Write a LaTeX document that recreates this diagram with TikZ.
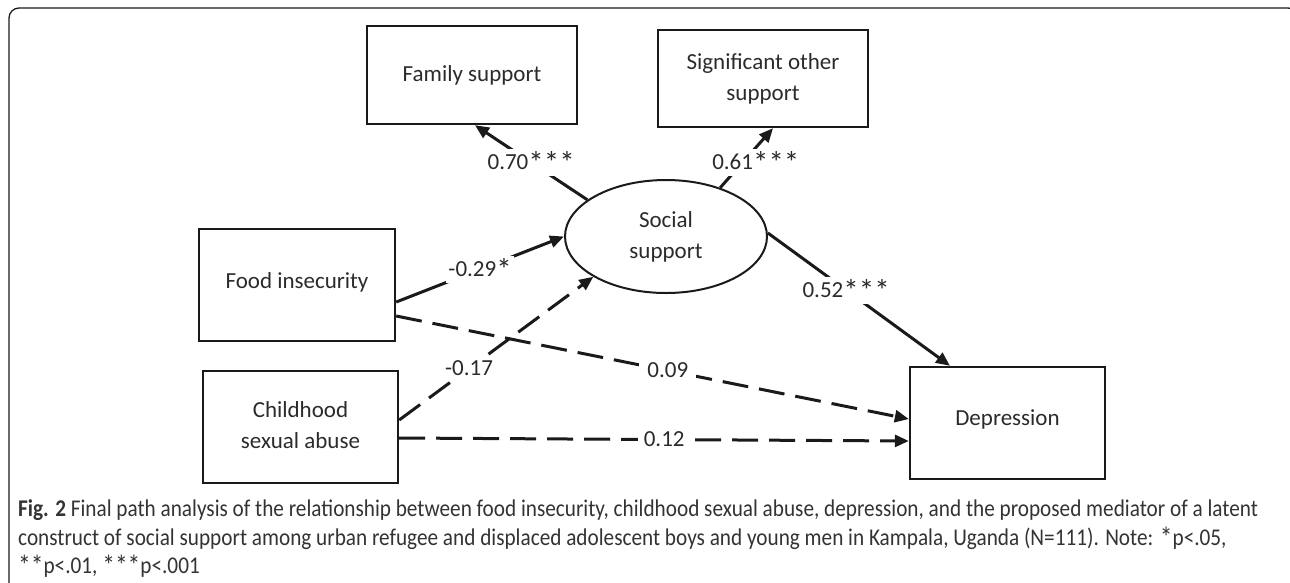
\documentclass[tikz,border=0pt]{standalone}
\usepackage{fontspec}
\usepackage{graphicx}
\setmainfont{Carlito}
\newfontfamily\capfont[FakeStretch=0.885]{Carlito}
\usetikzlibrary{arrows.meta,shapes.geometric,calc}
\definecolor{ink}{HTML}{1A1A1A}
\definecolor{txt}{HTML}{2B2B2B}
\definecolor{captxt}{HTML}{333333}
\newcommand\bast{\raisebox{-4pt}{\scalebox{1.35}{*}}}
\newcommand\cast{\raisebox{-2.5pt}{\scalebox{1.2}{*}}}
\begin{document}
\begin{tikzpicture}[x=1pt,y=-1pt,
  box/.style={draw=ink, line width=2.4pt, rectangle, inner sep=0pt,
    font=\fontsize{23}{31}\selectfont, text=txt, align=center},
  oval/.style={draw=ink, line width=2pt, ellipse, inner sep=0pt,
    font=\fontsize{23}{31}\selectfont, text=txt, align=center},
  lab/.style={fill=white, inner sep=2.5pt, font=\fontsize{23}{27}\selectfont, text=txt},
  pth/.style={draw=ink, line width=3pt, -{Triangle[length=14pt,width=12pt]}},
  dsh/.style={pth, dash pattern=on 26pt off 11pt},
  captext/.style={anchor=mid west, inner sep=0pt, text=captxt,
    font=\capfont\fontsize{24}{28}\selectfont}
]
\useasboundingbox (0,0) rectangle (1290,582);
\begin{scope}
  \clip (0,0) rectangle (1290,582);
  \draw[line width=1.3pt, rounded corners=10pt, color=ink] (9,8) rectangle (1298,594);
\end{scope}

% nodes
\node[box, minimum width=210pt, minimum height=98pt] (fam) at (472,75) {Family support};
\node[box, minimum width=210pt, minimum height=97pt] (sig) at (763,78.5) {Significant other\\support};
\node[oval, minimum width=202pt, minimum height=113pt] (soc) at (666,236.5) {Social\\support};
\node[box, minimum width=196pt, minimum height=112pt] (food) at (297,285) {\raisebox{9pt}{Food insecurity}};
\node[box, minimum width=195pt, minimum height=112pt] (child) at (300.5,427)
  {\raisebox{14.5pt}{\begin{tabular}{@{}c@{}}Childhood\\sexual abuse\end{tabular}}};
\node[box, minimum width=195pt, minimum height=112pt] (dep) at (1007.5,423) {\raisebox{10pt}{Depression}};

% connectors
\draw[pth] (soc.155) -- node[lab, pos=0.5] {0.70\bast\bast\bast} ([xshift=3pt]fam.south);
\draw[pth] (soc.42) -- node[lab, pos=0.43, xshift=13pt] {0.61\bast\bast\bast} ([xshift=10pt]sig.south);
\draw[pth] ([yshift=-17pt]food.east) -- node[lab, pos=0.5] {-0.29\bast} (soc.180);
\draw[dsh] ([yshift=7pt]child.east) -- node[lab, pos=0.36] {-0.17} (soc.209);
\draw[dsh] ([yshift=-31pt]food.east) -- node[lab, pos=0.53, inner xsep=8pt] {0.09} ([yshift=4pt]dep.west);
\draw[dsh] ([yshift=-11pt]child.east) -- node[lab, pos=0.52, inner xsep=6pt] {0.12} ([yshift=-18pt]dep.west);
\draw[pth] (soc.2) -- node[lab, pos=0.43] {0.52\bast\bast\bast} ([xshift=-57.5pt]dep.north);

% caption
\node[captext] (cap1) at (18,514) {\textbf{Fig. 2} Final path analysis of the relationship between food insecurity, childhood sexual abuse, depression, and the proposed mediator of a latent};
\node[captext] (cap2) at (18,543) {construct of social support among urban refugee and displaced adolescent boys and young men in Kampala, Uganda (N=111). Note: \cast p<.05,};
\node[captext] (cap3) at (18,571) {\cast\cast p<.01, \cast\cast\cast p<.001};
\end{tikzpicture}
\end{document}
